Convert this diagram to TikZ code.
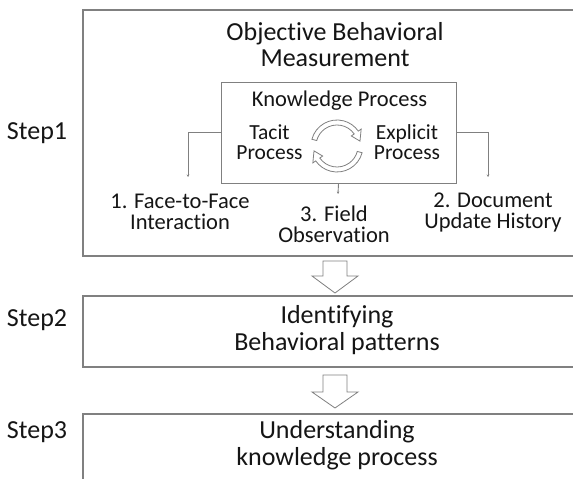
\documentclass[tikz,border=0pt]{standalone}
\usepackage{fontspec}
\setmainfont{Carlito}[Ligatures=NoCommon]
\usetikzlibrary{arrows.meta}
\definecolor{framegray}{HTML}{808080}
\definecolor{txt}{HTML}{151515}
\begin{document}
\begin{tikzpicture}[x=1pt,y=1pt,
  frame/.style={draw=framegray, line width=1.1pt, inner sep=0pt},
  big/.style={font=\fontsize{26}{26.7}\selectfont, align=center, inner sep=0pt, text=txt},
  small/.style={font=\fontsize{22.5}{21}\selectfont, align=center, inner sep=0pt, text=txt},
  tight/.style={font=\fontsize{21.5}{20.5}\selectfont, align=center, inner sep=0pt, text=txt},
  link/.style={draw=framegray, line width=0.9pt, -{Stealth[length=2.5pt,width=2.5pt]}},
  blockarrow/.style={draw=framegray, fill=white, line width=0.8pt, line join=miter},
]
\useasboundingbox (0,0) rectangle (573,479);
\clip (0,0) rectangle (573,479);
\fill[white] (0,0) rectangle (573,479);

% the three stage frames (they run past the right edge)
\node[frame, minimum width=517pt, minimum height=246pt] (s1) at (341.5,346) {};
\node[frame, minimum width=517pt, minimum height=71pt]  (s2) at (341.5,147.5) {};
\node[frame, minimum width=517pt, minimum height=80pt]  (s3) at (341.5,25) {};

% step labels
\node[big] (l1) at (37,346) {Step1};
\node[big] (l2) at (37,159) {Step2};
\node[big] (l3) at (37,47)  {Step3};

% stage 1 content
\node[big] (t1) at (335,434.5) {Objective Behavioral\\Measurement};
\node[frame, line width=0.9pt, minimum width=235pt, minimum height=101pt] (kp) at (338.5,346.5) {};
\node[small] (kpt) at (339.5,378.5) {Knowledge Process};
\node[tight] (tac) at (269.5,337) {Tacit\\Process};
\node[tight] (exp) at (407,337) {Explicit\\Process};

\node[small] (m1) at (180,267) {1. Face-to-Face\\Interaction};
\node[small] (m3) at (334,255) {3. Field\\Observation};
\node[small] (m2) at (493,266.5) {2. Document\\Update History};

\coordinate (e1) at (188,302);
\coordinate (e2) at (488,302);
\coordinate (e3) at (338,285);
\draw[link] (kp.west) -| (e1);
\draw[link] (kp.east) -| (e2);
\draw[link] (kp.south) -- (e3);

% circular exchange arrows between tacit and explicit
\begin{scope}[shift={(337,333)}]
  \draw[blockarrow] (165:26) arc[start angle=165, end angle=35, radius=26]
    -- (35:29.5) -- (12:23.5) -- (35:17.5) -- (35:21)
    arc[start angle=35, end angle=165, radius=21] -- cycle;
  \draw[blockarrow] (-15:26) arc[start angle=-15, end angle=-145, radius=26]
    -- (-145:29.5) -- (-168:23.5) -- (-145:17.5) -- (-145:21)
    arc[start angle=-145, end angle=-15, radius=21] -- cycle;
\end{scope}

% stage 2 and 3 content
\node[big] (t2) at (337,149) {Identifying\\Behavioral patterns};
\node[big] (t3) at (337,34) {Understanding\\knowledge process};

% block arrows between stages
\draw[blockarrow] (323,218) -- (347,218) -- (347,203) -- (358,203) -- (335,186)
  -- (312,203) -- (323,203) -- cycle;
\draw[blockarrow] (323,104) -- (347,104) -- (347,87) -- (358,87) -- (335,71)
  -- (312,87) -- (323,87) -- cycle;
\end{tikzpicture}
\end{document}
